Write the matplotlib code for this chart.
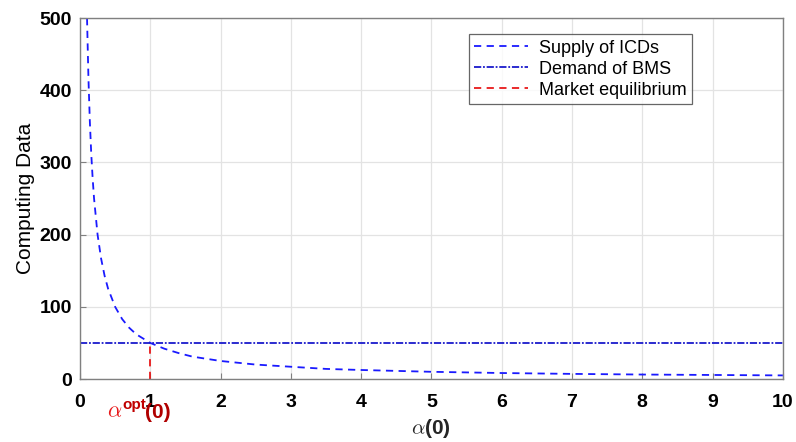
import matplotlib
matplotlib.use("Agg")
import matplotlib.pyplot as plt

# Values
supply_x = [0.10, 0.12, 0.14, 0.16, 0.18, 0.20, 0.25, 0.30, 0.35, 0.40, 0.50, 0.60,
            0.70, 0.80, 0.90, 1.00, 1.20, 1.40, 1.60, 1.80, 2.00, 2.50, 3.00, 3.50,
            4.00, 5.00, 6.00, 7.00, 8.00, 9.00, 10.00]
supply_y = [500, 417, 357, 312, 278, 250, 200, 167, 143, 125, 100, 83,
            71, 62, 56, 50, 42, 36, 31, 28, 25, 20, 17, 14,
            12.5, 10, 8.3, 7.1, 6.2, 5.6, 5]
demand_x = [0, 10]
demand_y = [50, 50]
equil_x = [1, 1]
equil_y = [0, 50]
xticks = [0, 1, 2, 3, 4, 5, 6, 7, 8, 9, 10]
yticks = [0, 100, 200, 300, 400, 500]

plt.rcParams['font.family'] = ['Liberation Sans', 'DejaVu Sans']
plt.rcParams['mathtext.fontset'] = 'cm'

fig = plt.figure(figsize=(7.96, 4.42), dpi=100)
ax = fig.add_axes([0.1005, 0.1425, 0.883, 0.8165])

ax.plot(supply_x, supply_y, color='#1a1aff', linestyle=(0, (4, 3)), linewidth=1.3,
        label='Supply of ICDs')
ax.plot(demand_x, demand_y, color='#1a1acc', linestyle=(0, (4, 1, 1, 1)), linewidth=1.3,
        label='Demand of BMS')
ax.plot(equil_x, equil_y, color='#e8191a', linestyle=(0, (4, 3)), linewidth=1.3,
        label='Market equilibrium')

ax.set_xlim(0, 10)
ax.set_ylim(0, 500)
ax.set_xticks(xticks)
ax.set_yticks(yticks)
ax.set_xticklabels([str(t) for t in xticks], fontsize=14, fontweight='bold')
ax.set_yticklabels([str(t) for t in yticks], fontsize=14, fontweight='bold')
ax.tick_params(direction='in', length=4, color='#808080')
ax.tick_params(axis='x', pad=11)
ax.tick_params(axis='y', pad=6)
ax.grid(True, color='#e3e3e3', linewidth=0.9)
ax.set_axisbelow(True)
for s in ax.spines.values():
    s.set_color('#808080')
    s.set_linewidth(1.0)

ax.set_ylabel('Computing Data', fontsize=15, labelpad=3)
ax.set_xlabel(r'$\alpha$' + '(0)', fontsize=15, fontweight='bold', labelpad=4, color='#262626')

# red annotation under x=1
tr = ax.get_xaxis_transform()
ax.text(0.60, -0.105, r'$\alpha$', transform=tr, ha='right', va='baseline',
        fontsize=16, color='#e8191a')
ax.text(0.61, -0.083, 'opt', transform=tr, ha='left', va='baseline',
        fontsize=11, fontweight='bold', color='#c00000')
ax.text(0.93, -0.108, '(0)', transform=tr, ha='left', va='baseline',
        fontsize=15, fontweight='bold', color='#b00000')

leg = ax.legend(loc='upper left', bbox_to_anchor=(0.553, 0.955), fontsize=13,
                frameon=True, fancybox=False, edgecolor='#404040', handlelength=3.0,
                borderpad=0.3, labelspacing=0.22, handletextpad=0.6, borderaxespad=0)
leg.get_frame().set_linewidth(0.9)

fig.savefig('out.png', dpi=100)
